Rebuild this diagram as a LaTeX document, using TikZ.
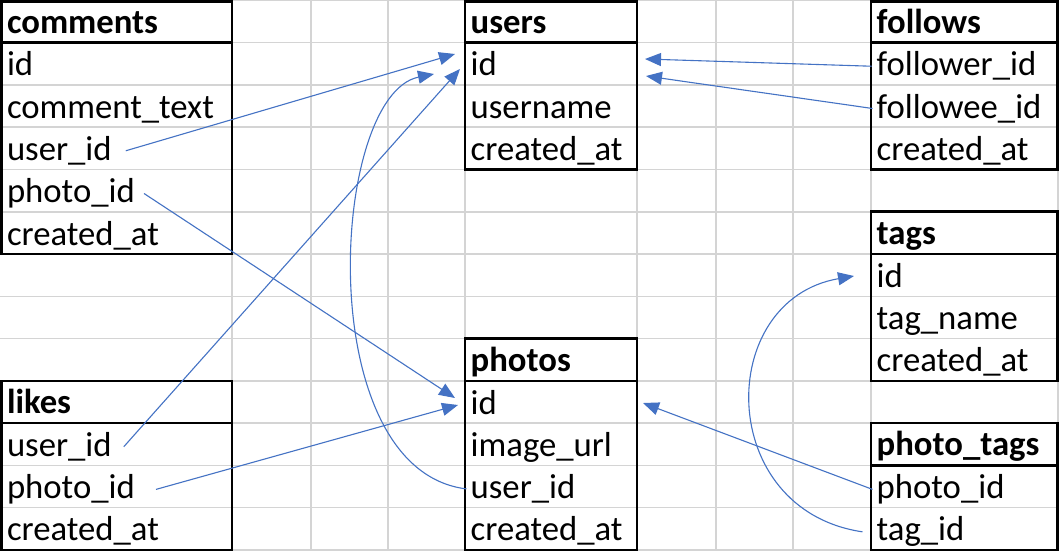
\documentclass[tikz,border=0pt]{standalone}
\usepackage{fontspec}
\setmainfont{Carlito}
\usetikzlibrary{arrows.meta}
\definecolor{gridc}{HTML}{D4D4D4}
\definecolor{conn}{HTML}{4472C4}
\newcommand\dbt[7]{%
  \node[hdr] (#1h) at (#2+5.5,{0.4+42.27*(#4+1)-9.5}) {#6};
  \foreach \fn [count=\i] in {#7} {\node[fld] (#1\i) at (#2+5.5,{0.4+42.27*(#4+1+\i)-9}) {\fn};}
  \draw[tb] (#2,{max(1.3,0.4+42.27*#4)}) rectangle (#3,{0.4+42.27*(#4+1+#5)});
  \draw[tb] (#2,{0.4+42.27*(#4+1)}) -- (#3,{0.4+42.27*(#4+1)});
}
\begin{document}
\begin{tikzpicture}[x=1pt,y=-1pt,
  fld/.style={anchor=base west, inner sep=0pt, font=\fontsize{34.7}{40}\selectfont},
  hdr/.style={anchor=base west, inner sep=0pt, font=\fontsize{34.7}{40}\selectfont\bfseries},
  tb/.style={draw=black, line width=2.6pt},
  gl/.style={draw=gridc, line width=1.5pt},
  cn/.style={draw=conn, line width=1.1pt, -{Triangle[length=16pt,width=13pt]}}]
\useasboundingbox (0,0) rectangle (1059,551);
\fill[white] (0,0) rectangle (1059,551);
% spreadsheet grid
\foreach \x in {232,311,388,465,637,716,793,871,1058} \draw[gl] (\x,0) -- (\x,551);
\foreach \k in {0,...,13} \draw[gl] (0,{0.4+42.27*\k}) -- (1059,{0.4+42.27*\k});
% tables
\dbt{c}{1.3}{232}{0}{5}{comments}{id,comment\_text,user\_id,photo\_id,created\_at}
\dbt{u}{465}{637}{0}{3}{users}{id,username,created\_at}
\dbt{f}{871}{1057.7}{0}{3}{follows}{follower\_id,followee\_id,created\_at}
\dbt{t}{871}{1057.7}{5}{3}{tags}{id,tag\_name,created\_at}
\dbt{p}{465}{637}{8}{4}{photos}{id,image\_url,user\_id,created\_at}
\dbt{l}{1.3}{232}{9}{3}{likes}{user\_id,photo\_id,created\_at}
\dbt{pt}{871}{1057.7}{10}{2}{photo\_tags}{photo\_id,tag\_id}
% arrow tips
\coordinate (uA) at (455,54);
\coordinate (uB) at (460,69);
\coordinate (uC) at (434,74);
\coordinate (uD) at (645,59);
\coordinate (uE) at (646,76);
\coordinate (pA) at (455,398);
\coordinate (pB) at (458,405);
\coordinate (pC) at (643,403);
\coordinate (tA) at (854,276);
% connectors
\draw[cn] ([xshift=14pt]c3.east) -- (uA);
\draw[cn] ([xshift=9pt]c4.east) -- (pA);
\draw[cn] ([xshift=12pt]l1.east) -- (uB);
\draw[cn] ([xshift=21pt]l2.east) -- (pB);
\draw[cn] ([xshift=-4pt]p3.west) .. controls (310,470) and (330,95) .. (uC);
\draw[cn] ([xshift=-5pt]f1.west) -- (uD);
\draw[cn] ([xshift=-4pt]f2.west) -- (uE);
\draw[cn] ([xshift=-4pt]pt1.west) -- (pC);
\draw[cn] ([xshift=-14pt]pt2.west) .. controls (715,510) and (715,300) .. (tA);
\end{tikzpicture}
\end{document}
